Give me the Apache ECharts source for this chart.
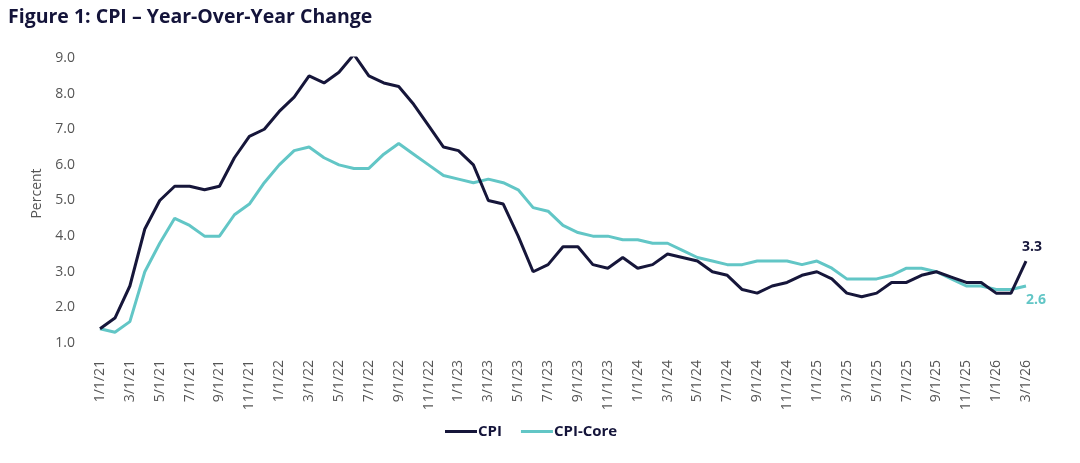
<!DOCTYPE html>
<html>
<head>
<meta charset="utf-8">
<script src="https://cdn.jsdelivr.net/npm/echarts@6/dist/echarts.min.js"></script>
<style>
  html, body { margin: 0; padding: 0; background: #fff; }
  #chart { width: 1080px; height: 463px; }
</style>
</head>
<body>
<div id="chart"></div>
<script>
// monthly dates 1/1/21 .. 3/1/26
var months = [];
for (var y = 21; y <= 26; y++) {
  for (var m = 1; m <= 12; m++) {
    if (y === 26 && m > 3) break;
    months.push(m + '/1/' + y);
  }
}

// CPI year-over-year (%)
var cpi = [
  1.4, 1.7, 2.6, 4.2, 5.0, 5.4, 5.4, 5.3, 5.4, 6.2, 6.8, 7.0,
  7.5, 7.9, 8.5, 8.3, 8.6, 9.1, 8.5, 8.3, 8.2, 7.7, 7.1, 6.5,
  6.4, 6.0, 5.0, 4.9, 4.0, 3.0, 3.2, 3.7, 3.7, 3.2, 3.1, 3.4,
  3.1, 3.2, 3.5, 3.4, 3.3, 3.0, 2.9, 2.5, 2.4, 2.6, 2.7, 2.9,
  3.0, 2.8, 2.4, 2.3, 2.4, 2.7, 2.7, 2.9, 3.0, 2.85, 2.7, 2.7,
  2.4, 2.4, 3.3
];

// CPI-Core year-over-year (%)
var core = [
  1.4, 1.3, 1.6, 3.0, 3.8, 4.5, 4.3, 4.0, 4.0, 4.6, 4.9, 5.5,
  6.0, 6.4, 6.5, 6.2, 6.0, 5.9, 5.9, 6.3, 6.6, 6.3, 6.0, 5.7,
  5.6, 5.5, 5.6, 5.5, 5.3, 4.8, 4.7, 4.3, 4.1, 4.0, 4.0, 3.9,
  3.9, 3.8, 3.8, 3.6, 3.4, 3.3, 3.2, 3.2, 3.3, 3.3, 3.3, 3.2,
  3.3, 3.1, 2.8, 2.8, 2.8, 2.9, 3.1, 3.1, 3.0, 2.8, 2.6, 2.6,
  2.5, 2.5, 2.6
];

var navy = '#16163a';
var teal = '#62c6c6';

var chart = echarts.init(document.getElementById('chart'));

// 末端数值标签
function endValue(p) {
  return Number(p.value).toFixed(1);
}

var option = {
  backgroundColor: '#fff',
  animation: false,
  title: {
    text: 'Figure 1: CPI \u2013 Year-Over-Year Change',
    left: 3,
    top: 2,
    textStyle: {
      fontFamily: 'Open Sans',
      fontWeight: 'bold',
      fontSize: 19.5,
      color: '#14143a'
    }
  },
  legend: {
    bottom: 19,
    left: 440,
    icon: 'rect',
    itemWidth: 32,
    itemHeight: 3,
    itemGap: 19,
    data: ['CPI', 'CPI-Core'],
    textStyle: {
      fontFamily: 'Open Sans',
      fontWeight: 'bold',
      fontSize: 15,
      color: '#14143a',
      padding: [0, 0, 0, -4]
    }
  },
  grid: {
    left: 100,
    right: 54,
    top: 58,
    bottom: 120
  },
  xAxis: {
    type: 'category',
    data: months,
    boundaryGap: false,
    axisLine: { show: false },
    axisTick: { show: false },
    axisLabel: {
      rotate: 90,
      interval: 1,
      margin: 17,
      fontFamily: 'Open Sans',
      fontSize: 14,
      color: '#555'
    }
  },
  yAxis: {
    type: 'value',
    min: 1,
    max: 9,
    interval: 1,
    name: 'Percent',
    nameLocation: 'middle',
    nameGap: 53,
    nameTextStyle: {
      fontFamily: 'Open Sans',
      fontSize: 14,
      color: '#555',
      padding: [0, 0, 0, 14]
    },
    axisLine: { show: false },
    axisTick: { show: false },
    splitLine: { show: false },
    axisLabel: {
      margin: 25,
      fontFamily: 'Open Sans',
      fontSize: 14,
      color: '#555',
      formatter: function (v) { return v.toFixed(1); }
    }
  },
  series: [{
    name: 'CPI',
    type: 'line',
    data: cpi,
    showSymbol: false,
    color: navy,
    lineStyle: { width: 3, color: navy },
    endLabel: {
      show: true,
      offset: [-12, -14],
      formatter: endValue,
      fontFamily: 'Open Sans',
      fontWeight: 'bold',
      fontSize: 14,
      color: navy
    },
    z: 3
  }, {
    name: 'CPI-Core',
    type: 'line',
    data: core,
    showSymbol: false,
    color: teal,
    lineStyle: { width: 3, color: teal },
    endLabel: {
      show: true,
      offset: [-8, 14],
      formatter: endValue,
      fontFamily: 'Open Sans',
      fontWeight: 'bold',
      fontSize: 14,
      color: teal
    },
    z: 2
  }]
};

chart.setOption(option);
</script>
</body>
</html>
